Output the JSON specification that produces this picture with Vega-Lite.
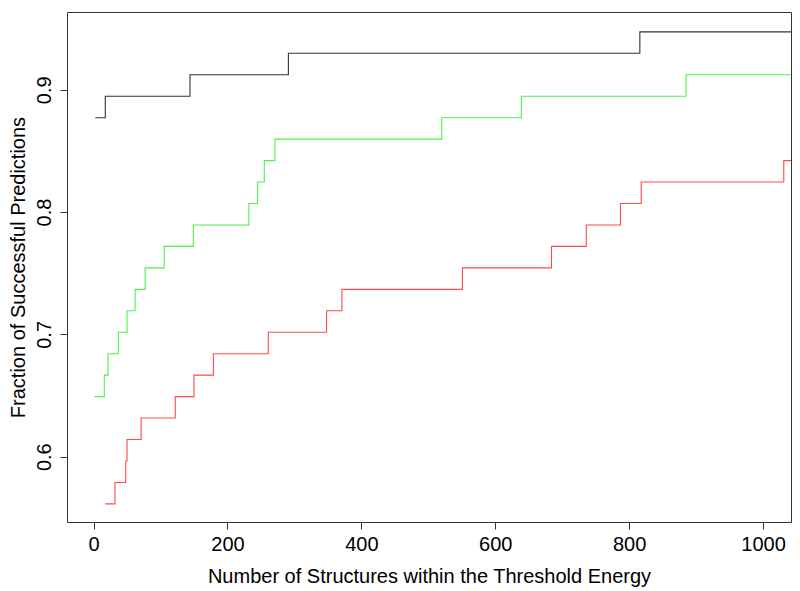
{
  "$schema": "https://vega.github.io/schema/vega-lite/v6.json",
  "width": 724,
  "height": 510,
  "autosize": {"type": "none"},
  "padding": {"left": 67, "top": 12, "right": 9, "bottom": 69},
  "background": "white",
  "config": {
    "view": {"stroke": "#333333", "strokeWidth": 1},
    "font": "Liberation Sans"
  },
  "data": {
    "values": [
      {"series": "black", "x": 2.5, "y": 0.87719},
      {"series": "black", "x": 17.5, "y": 0.89474},
      {"series": "black", "x": 144, "y": 0.91228},
      {"series": "black", "x": 291, "y": 0.92982},
      {"series": "black", "x": 816, "y": 0.94737},
      {"series": "black", "x": 1045, "y": 0.94737},
      {"series": "green", "x": 1.5, "y": 0.64912},
      {"series": "green", "x": 16, "y": 0.66667},
      {"series": "green", "x": 21.5, "y": 0.68421},
      {"series": "green", "x": 37, "y": 0.70175},
      {"series": "green", "x": 50, "y": 0.7193},
      {"series": "green", "x": 62, "y": 0.73684},
      {"series": "green", "x": 77, "y": 0.75439},
      {"series": "green", "x": 105.5, "y": 0.77193},
      {"series": "green", "x": 149, "y": 0.78947},
      {"series": "green", "x": 232, "y": 0.80702},
      {"series": "green", "x": 245, "y": 0.82456},
      {"series": "green", "x": 255, "y": 0.84211},
      {"series": "green", "x": 271, "y": 0.85965},
      {"series": "green", "x": 520, "y": 0.87719},
      {"series": "green", "x": 639, "y": 0.89474},
      {"series": "green", "x": 885, "y": 0.91228},
      {"series": "green", "x": 1045, "y": 0.91228},
      {"series": "red", "x": 17.5, "y": 0.5614},
      {"series": "red", "x": 32, "y": 0.57895},
      {"series": "red", "x": 48, "y": 0.59649},
      {"series": "red", "x": 50, "y": 0.61404},
      {"series": "red", "x": 71, "y": 0.63158},
      {"series": "red", "x": 122, "y": 0.64912},
      {"series": "red", "x": 150, "y": 0.66667},
      {"series": "red", "x": 179, "y": 0.68421},
      {"series": "red", "x": 261, "y": 0.70175},
      {"series": "red", "x": 348, "y": 0.7193},
      {"series": "red", "x": 371, "y": 0.73684},
      {"series": "red", "x": 551, "y": 0.75439},
      {"series": "red", "x": 684, "y": 0.77193},
      {"series": "red", "x": 736, "y": 0.78947},
      {"series": "red", "x": 787, "y": 0.80702},
      {"series": "red", "x": 818, "y": 0.82456},
      {"series": "red", "x": 1031, "y": 0.84211},
      {"series": "red", "x": 1045, "y": 0.84211}
    ]
  },
  "mark": {"type": "line", "interpolate": "step-after", "clip": true, "strokeWidth": 1.1},
  "encoding": {
    "x": {
      "field": "x",
      "type": "quantitative",
      "scale": {"domain": [-39.7, 1041.8], "nice": false, "zero": false},
      "axis": {
        "title": "Number of Structures within the Threshold Energy",
        "values": [0, 200, 400, 600, 800, 1000],
        "format": "d",
        "grid": false,
        "domain": false,
        "tickColor": "#333333",
        "tickSize": 7,
        "labelFontSize": 20,
        "labelColor": "#000000",
        "labelPadding": 5,
        "labelFont": "Liberation Sans",
        "titleFont": "Liberation Sans",
        "titleFontWeight": "normal",
        "titleFontSize": 20,
        "titleColor": "#000000",
        "titleBaseline": "middle",
        "titleY": 54
      }
    },
    "y": {
      "field": "y",
      "type": "quantitative",
      "scale": {"domain": [0.5466, 0.9636], "nice": false, "zero": false},
      "axis": {
        "title": "Fraction of Successful Predictions",
        "values": [0.6, 0.7, 0.8, 0.9],
        "format": ".1f",
        "grid": false,
        "domain": false,
        "tickColor": "#333333",
        "tickSize": 7,
        "labelAngle": -90,
        "labelAlign": "center",
        "labelBaseline": "bottom",
        "labelFontSize": 20,
        "labelColor": "#000000",
        "labelPadding": 6,
        "labelFont": "Liberation Sans",
        "titleFont": "Liberation Sans",
        "titleFontWeight": "normal",
        "titleFontSize": 20,
        "titleColor": "#000000",
        "titleBaseline": "middle",
        "titleX": -49
      }
    },
    "color": {
      "field": "series",
      "type": "nominal",
      "scale": {"domain": ["black", "green", "red"], "range": ["#333333", "#4cf04c", "#ff4a4a"]},
      "legend": null
    }
  }
}
